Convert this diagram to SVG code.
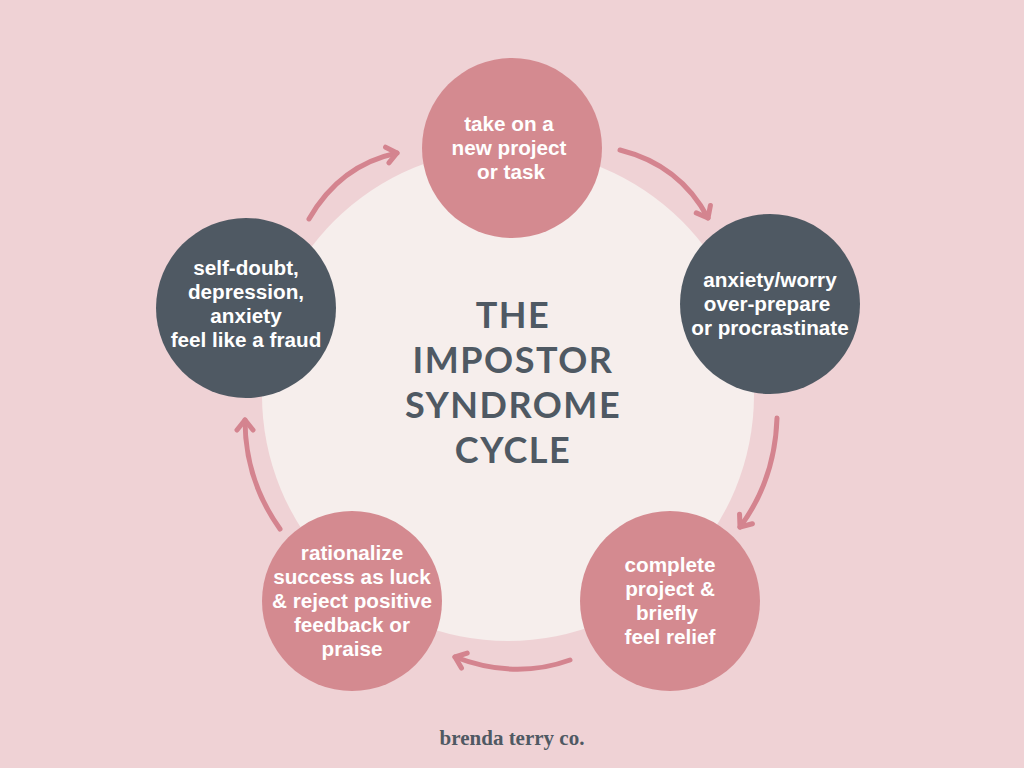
<svg xmlns="http://www.w3.org/2000/svg" width="1024" height="768" viewBox="0 0 1024 768">
  <defs>
    <style>
      .pink { fill: #D48A90; }
      .dark { fill: #4F5963; }
      .lbl { font-family: "Liberation Sans", Arial, sans-serif; font-weight: bold; font-size: 20.7px; fill: #FFFFFF; text-anchor: middle; }
      .title { font-family: Lato, "Open Sans", sans-serif; font-weight: bold; font-size: 36px; fill: #4F5963; text-anchor: middle; letter-spacing: 1.5px; }
      .foot { font-family: "Liberation Serif", "Times New Roman", serif; font-weight: bold; font-size: 21px; fill: #4F5963; text-anchor: middle; }
      .arr { fill: none; stroke: #D4848F; stroke-width: 5; stroke-linecap: round; stroke-linejoin: round; }
    </style>
    <marker id="head" viewBox="-14 -12 20 24" refX="0" refY="0" markerWidth="20" markerHeight="24" markerUnits="userSpaceOnUse" orient="auto" overflow="visible">
      <path d="M-10,-8 L0,0 L-10,8" fill="none" stroke="#D4848F" stroke-width="5" stroke-linecap="round" stroke-linejoin="round"/>
    </marker>
  </defs>
  <rect width="1024" height="768" fill="#EFD2D5"/>
  <circle cx="508" cy="395" r="246" fill="#F6EEEC"/>
  <g id="title">
    <text class="title" x="513" y="328">THE</text>
    <text class="title" x="513" y="373">IMPOSTOR</text>
    <text class="title" x="513" y="418">SYNDROME</text>
    <text class="title" x="513" y="463">CYCLE</text>
  </g>
  <g id="connectors">
    <path class="arr" d="M309,219 Q340,165 397,153" marker-end="url(#head)"/>
    <path class="arr" d="M620,150 Q680,165 708,218" marker-end="url(#head)"/>
    <path class="arr" d="M777,418 Q775,480 740,527" marker-end="url(#head)"/>
    <path class="arr" d="M570,660 Q515,680 455,657" marker-end="url(#head)"/>
    <path class="arr" d="M280,529 Q245,480 245,420" marker-end="url(#head)"/>
  </g>
  <g id="node-take-on">
    <circle class="pink" cx="512" cy="148" r="90"/>
    <text class="lbl" x="509" y="131">take on a</text>
    <text class="lbl" x="509" y="155">new project</text>
    <text class="lbl" x="511" y="179">or task</text>
  </g>
  <g id="node-anxiety">
    <circle class="dark" cx="770" cy="304" r="90"/>
    <text class="lbl" x="770" y="287">anxiety/worry</text>
    <text class="lbl" x="767" y="311">over-prepare</text>
    <text class="lbl" x="770" y="335">or procrastinate</text>
  </g>
  <g id="node-complete">
    <circle class="pink" cx="670" cy="601" r="90"/>
    <text class="lbl" x="670" y="572">complete</text>
    <text class="lbl" x="670" y="596">project &amp;</text>
    <text class="lbl" x="667" y="620">briefly</text>
    <text class="lbl" x="670" y="644">feel relief</text>
  </g>
  <g id="node-rationalize">
    <circle class="pink" cx="352" cy="601" r="90"/>
    <text class="lbl" x="352" y="560">rationalize</text>
    <text class="lbl" x="352" y="584">success as luck</text>
    <text class="lbl" x="352" y="608">&amp; reject positive</text>
    <text class="lbl" x="352" y="632">feedback or</text>
    <text class="lbl" x="352" y="656">praise</text>
  </g>
  <g id="node-self-doubt">
    <circle class="dark" cx="246" cy="308" r="90"/>
    <text class="lbl" x="246" y="275">self-doubt,</text>
    <text class="lbl" x="246" y="299">depression,</text>
    <text class="lbl" x="246" y="323">anxiety</text>
    <text class="lbl" x="246" y="347">feel like a fraud</text>
  </g>
  <text class="foot" x="512" y="745">brenda terry co.</text>
</svg>
